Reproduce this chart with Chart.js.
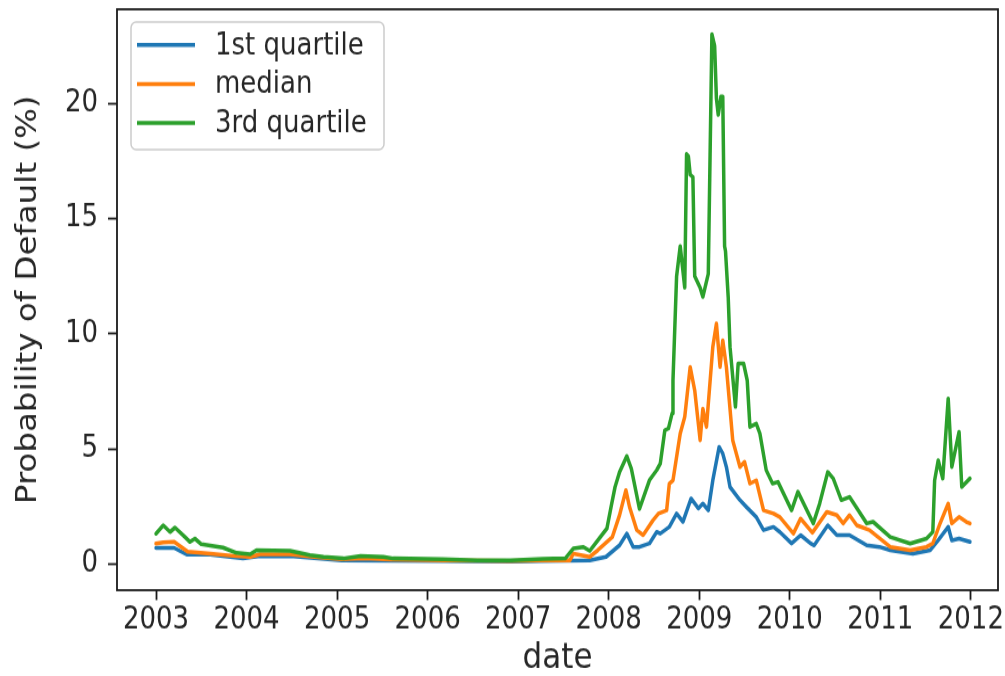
<!DOCTYPE html>
<html>
<head>
<meta charset="utf-8">
<script src="https://cdn.jsdelivr.net/npm/chart.js@4.4.1/dist/chart.umd.min.js"></script>
<style>
  html, body { margin: 0; padding: 0; background: #fff; }
  #page { width: 1005px; height: 676px; overflow: hidden; }
  /* the reference figure is stretched vertically, so is this one */
  #wrap { width: 1005px; height: 583px; transform: scaleY(1.1595); transform-origin: 0 0; }
</style>
</head>
<body>
<div id="page"><div id="wrap"><canvas id="pdChart" width="1005" height="583"></canvas></div></div>
<script>
const xTicks = [2003, 2004, 2005, 2006, 2007, 2008, 2009, 2010, 2011, 2012];
const yTicks = [0, 5, 10, 15, 20];

// 1st quartile
const q1Dates = [2003.00, 2003.20, 2003.34, 2003.60, 2003.96, 2004.15, 2004.48, 2005.05, 2006.17, 2006.92,
  2007.24, 2007.50, 2007.79, 2007.97, 2008.12, 2008.20, 2008.27, 2008.34, 2008.45, 2008.53,
  2008.57, 2008.67, 2008.75, 2008.82, 2008.91, 2008.99, 2009.04, 2009.10, 2009.15, 2009.22,
  2009.26, 2009.30, 2009.34, 2009.45, 2009.52, 2009.63, 2009.71, 2009.82, 2009.89, 2010.02,
  2010.12, 2010.23, 2010.27, 2010.42, 2010.52, 2010.66, 2010.85, 2010.99, 2011.11, 2011.36,
  2011.55, 2011.64, 2011.75, 2011.79, 2011.87, 2011.99];
const q1Values = [0.71, 0.71, 0.42, 0.42, 0.25, 0.35, 0.35, 0.17, 0.14, 0.12,
  0.14, 0.15, 0.17, 0.32, 0.82, 1.33, 0.75, 0.75, 0.90, 1.40,
  1.33, 1.62, 2.20, 1.84, 2.85, 2.42, 2.63, 2.34, 3.64, 5.09,
  4.80, 4.22, 3.35, 2.78, 2.49, 2.05, 1.48, 1.62, 1.40, 0.90,
  1.26, 0.90, 0.82, 1.69, 1.26, 1.26, 0.82, 0.75, 0.61, 0.46,
  0.61, 1.04, 1.62, 1.04, 1.11, 0.97];

// median
const medDates = [2003.00, 2003.08, 2003.20, 2003.35, 2003.60, 2003.89, 2004.04, 2004.15, 2004.48, 2004.75,
  2005.05, 2005.30, 2005.60, 2006.20, 2006.90, 2007.40, 2007.57, 2007.61, 2007.79, 2007.88,
  2008.04, 2008.12, 2008.19, 2008.23, 2008.31, 2008.38, 2008.49, 2008.55, 2008.64, 2008.67,
  2008.71, 2008.79, 2008.84, 2008.90, 2008.95, 2009.01, 2009.04, 2009.08, 2009.15, 2009.19,
  2009.23, 2009.26, 2009.30, 2009.37, 2009.45, 2009.50, 2009.56, 2009.63, 2009.71, 2009.82,
  2009.89, 2009.98, 2010.04, 2010.12, 2010.25, 2010.41, 2010.52, 2010.59, 2010.66, 2010.74,
  2010.88, 2011.11, 2011.33, 2011.51, 2011.58, 2011.66, 2011.75, 2011.79, 2011.87, 2011.95, 2011.99];
const medValues = [0.90, 0.95, 0.97, 0.55, 0.46, 0.35, 0.32, 0.43, 0.43, 0.32,
  0.22, 0.25, 0.20, 0.17, 0.14, 0.18, 0.17, 0.46, 0.32, 0.61,
  1.18, 2.13, 3.21, 2.49, 1.48, 1.26, 1.91, 2.20, 2.34, 3.50,
  3.64, 5.67, 6.39, 8.56, 7.55, 5.38, 6.75, 5.96, 9.43, 10.44,
  8.56, 9.72, 8.56, 5.38, 4.22, 4.44, 3.50, 3.64, 2.34, 2.20,
  2.05, 1.62, 1.33, 1.98, 1.37, 2.27, 2.13, 1.77, 2.13, 1.69,
  1.48, 0.75, 0.61, 0.75, 0.90, 1.77, 2.63, 1.77, 2.05, 1.84, 1.77];

// 3rd quartile
const q3Dates = [2003.00, 2003.08, 2003.155, 2003.21, 2003.32, 2003.375, 2003.43, 2003.50, 2003.74, 2003.89,
  2004.04, 2004.11, 2004.48, 2004.70, 2004.85, 2005.07, 2005.26, 2005.51, 2005.62, 2006.17,
  2006.55, 2006.92, 2007.27, 2007.52, 2007.61, 2007.72, 2007.79, 2007.98, 2008.03, 2008.07,
  2008.12, 2008.20, 2008.25, 2008.34, 2008.45, 2008.53, 2008.57, 2008.62, 2008.66, 2008.70,
  2008.71, 2008.75, 2008.79, 2008.84, 2008.86, 2008.88, 2008.90, 2008.93, 2008.95, 2009.01,
  2009.04, 2009.10, 2009.14, 2009.17, 2009.19, 2009.21, 2009.24, 2009.26, 2009.28, 2009.29,
  2009.32, 2009.34, 2009.40, 2009.43, 2009.49, 2009.53, 2009.56, 2009.63, 2009.67, 2009.74,
  2009.81, 2009.87, 2010.02, 2010.09, 2010.26, 2010.33, 2010.42, 2010.48, 2010.57, 2010.66,
  2010.85, 2010.92, 2011.11, 2011.33, 2011.51, 2011.58, 2011.60, 2011.64, 2011.69, 2011.75,
  2011.79, 2011.87, 2011.90, 2011.99];
const q3Values = [1.33, 1.69, 1.40, 1.59, 1.18, 0.97, 1.11, 0.87, 0.72, 0.49,
  0.43, 0.61, 0.58, 0.39, 0.32, 0.25, 0.36, 0.32, 0.25, 0.22,
  0.17, 0.17, 0.23, 0.25, 0.68, 0.75, 0.58, 1.55, 2.56, 3.35,
  4.00, 4.69, 4.15, 2.40, 3.64, 4.08, 4.37, 5.81, 5.89, 6.54,
  7.98, 12.5, 13.8, 12.0, 17.8, 17.7, 16.9, 16.8, 12.5, 12.0,
  11.6, 12.6, 23.0, 22.5, 20.2, 19.5, 20.3, 20.3, 13.8, 13.6,
  11.6, 9.43, 6.83, 8.71, 8.71, 7.98, 5.96, 6.10, 5.67, 4.08,
  3.50, 3.57, 2.34, 3.14, 1.77, 2.63, 4.00, 3.72, 2.78, 2.92,
  1.77, 1.84, 1.18, 0.90, 1.11, 1.40, 3.64, 4.51, 3.72, 7.19,
  4.22, 5.74, 3.35, 3.72];

const FONT = "'DejaVu Sans', sans-serif";
const TEXT = '#262626';

function toPoints(dates, values) {
  return dates.map((d, i) => ({ x: d, y: values[i] }));
}

function lineSet(label, dates, values, color, order) {
  return {
    label,
    data: toPoints(dates, values),
    borderColor: color,
    backgroundColor: color,
    borderWidth: 3.5,
    pointRadius: 0,
    tension: 0,
    borderJoinStyle: 'round',
    borderCapStyle: 'round',
    order
  };
}

// axes frame on all four sides, like matplotlib spines
const framePlugin = {
  id: 'frame',
  afterDatasetsDraw(chart) {
    const { ctx, chartArea: a } = chart;
    ctx.save();
    ctx.strokeStyle = '#1a1a1a';
    ctx.lineWidth = 1.8;
    ctx.strokeRect(a.left, a.top, a.right - a.left, a.bottom - a.top);
    ctx.restore();
  }
};

// legend box inside the upper left corner
const innerLegend = {
  id: 'innerLegend',
  afterDraw(chart) {
    const { ctx } = chart;
    const box = { x: 131, y: 19, w: 253, h: 110 };
    ctx.save();
    ctx.fillStyle = 'rgba(255,255,255,0.8)';
    ctx.strokeStyle = '#cccccc';
    ctx.lineWidth = 1.5;
    ctx.beginPath();
    ctx.roundRect(box.x, box.y, box.w, box.h, 5);
    ctx.fill();
    ctx.stroke();
    ctx.font = '26px ' + FONT;
    ctx.textBaseline = 'middle';
    chart.data.datasets.forEach((ds, i) => {
      const y = 38.8 + i * 33.6;
      ctx.strokeStyle = ds.borderColor;
      ctx.lineWidth = 3.5;
      ctx.beginPath();
      ctx.moveTo(137, y);
      ctx.lineTo(195, y);
      ctx.stroke();
      ctx.fillStyle = TEXT;
      ctx.fillText(ds.label, 215, y + 1);
    });
    ctx.restore();
  }
};

const ctx = document.getElementById('pdChart').getContext('2d');
new Chart(ctx, {
  type: 'line',
  data: {
    datasets: [
      lineSet('1st quartile', q1Dates, q1Values, '#1f77b4', 2),
      lineSet('median', medDates, medValues, '#ff7f0e', 1),
      lineSet('3rd quartile', q3Dates, q3Values, '#2ca02c', 0)
    ]
  },
  options: {
    responsive: false,
    animation: false,
    devicePixelRatio: 1,
    layout: { padding: { top: 8, right: 7, left: 0, bottom: 0 } },
    plugins: {
      legend: { display: false },
      tooltip: { enabled: false }
    },
    scales: {
      x: {
        type: 'linear',
        min: 2002.569,
        max: 2012.30,
        afterFit: s => { s.height = 74; s.paddingLeft = 0; s.paddingRight = 0; },
        afterBuildTicks: s => { s.ticks = xTicks.map(v => ({ value: v })); },
        grid: { drawOnChartArea: false, drawTicks: true, tickLength: 8.5, tickWidth: 1.8, tickColor: '#1a1a1a' },
        border: { display: false },
        ticks: { color: TEXT, font: { family: FONT, size: 26 }, padding: 2, maxRotation: 0, autoSkip: false, callback: v => String(v) },
        title: { display: true, text: 'date', color: TEXT, font: { family: FONT, size: 31, lineHeight: 1 }, padding: { top: 0, bottom: 0 } }
      },
      y: {
        min: -1.128,
        max: 24.08,
        afterFit: s => { s.width = 117; s.paddingTop = 0; s.paddingBottom = 0; },
        afterBuildTicks: s => { s.ticks = yTicks.map(v => ({ value: v })); },
        grid: { drawOnChartArea: false, drawTicks: true, tickLength: 9, tickWidth: 1.8, tickColor: '#1a1a1a' },
        border: { display: false },
        ticks: { color: TEXT, font: { family: FONT, size: 26 }, padding: 10, callback: v => String(v) },
        title: { display: true, text: 'Probability of Default (%)', color: TEXT, font: { family: FONT, size: 28 }, padding: { top: 12, bottom: 0 } }
      }
    }
  },
  plugins: [framePlugin, innerLegend]
});
</script>
</body>
</html>
